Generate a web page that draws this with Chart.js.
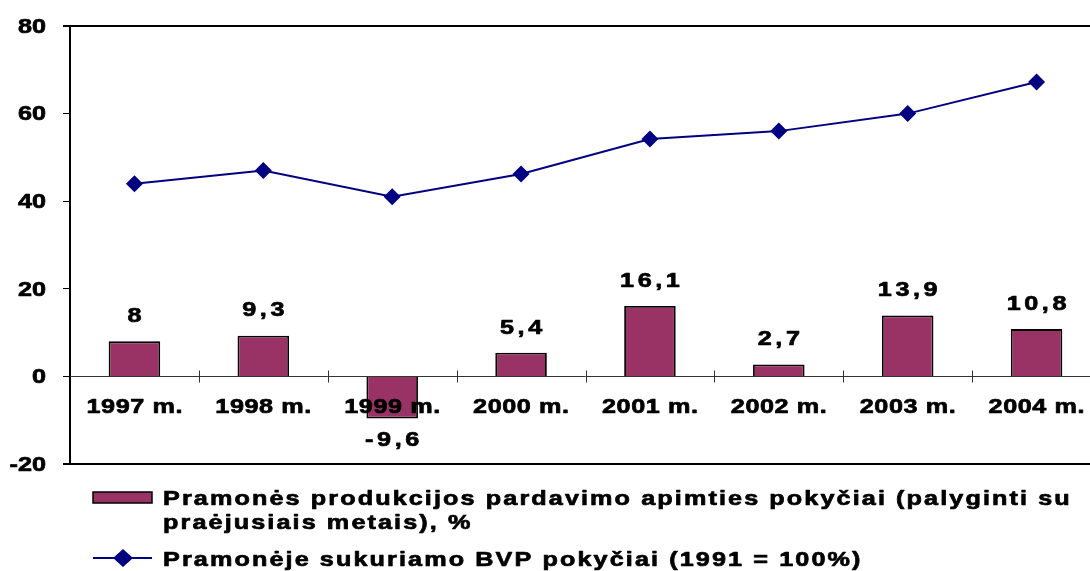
<!DOCTYPE html>
<html>
<head>
<meta charset="utf-8">
<script src="https://cdn.jsdelivr.net/npm/chart.js@4.4.1/dist/chart.umd.min.js"></script>
<style>
  html, body { margin: 0; padding: 0; background: #fff; overflow: hidden; }
  #wrap { width: 1090px; height: 571px; overflow: hidden; }
</style>
</head>
<body>
<div id="wrap"><canvas id="chart" width="1110" height="571"></canvas></div>
<script>
// data
const years = ['1997 m.', '1998 m.', '1999 m.', '2000 m.', '2001 m.', '2002 m.', '2003 m.', '2004 m.']
const salesChange = [8, 9.3, -9.6, 5.4, 16.1, 2.7, 13.9, 10.8]
const gdpIndex = [44, 47, 41, 46.2, 54.2, 56, 60, 67.2]
const yTicks = [-20, 0, 20, 40, 60, 80]
const barLabel = ['Pramonės produkcijos pardavimo apimties pokyčiai (palyginti su', 'praėjusiais metais), %']
const lineLabel = 'Pramonėje sukuriamo BVP pokyčiai (1991 = 100%)'

const BAR_COLOR = '#993366'
const LINE_COLOR = '#000080'
const FONT = 'bold 21px "Liberation Sans", Arial, sans-serif'

function fmt(v) {
    return String(v).replace('.', ',')
}

// the original text is a wide, heavy face: stretch it and thicken it a little
function wideText(ctx, text, x, y, align, spacing) {
    ctx.save()
    ctx.translate(x, y)
    ctx.scale(1.2, 1)
    ctx.font = FONT
    ctx.letterSpacing = spacing + 'px'
    ctx.textAlign = align
    ctx.strokeStyle = ctx.fillStyle
    ctx.lineWidth = 0.7
    ctx.lineJoin = 'round'
    const dx = align === 'center' ? spacing / 2 : 0
    ctx.fillText(text, dx, 0)
    ctx.strokeText(text, dx, 0)
    ctx.restore()
}

const decorations = {
    id: 'decorations',
    beforeDatasetsDraw(chart) {
        const ctx = chart.ctx
        const area = chart.chartArea
        const x = chart.scales.x
        const y = chart.scales.y
        const zero = Math.round(y.getPixelForValue(0)) + 0.5
        ctx.save()
        ctx.strokeStyle = '#333'
        ctx.lineWidth = 1
        ctx.beginPath()
        ctx.moveTo(area.left, zero)
        ctx.lineTo(area.right, zero)
        for (let i = 1; i < years.length; i++) {
            const bx = Math.round((x.getPixelForValue(i - 1) + x.getPixelForValue(i)) / 2) + 0.5
            ctx.moveTo(bx, zero - 6)
            ctx.lineTo(bx, zero + 6)
        }
        ctx.stroke()
        ctx.restore()
    },
    afterDraw(chart) {
        const ctx = chart.ctx
        const area = chart.chartArea
        const x = chart.scales.x
        const y = chart.scales.y
        const zero = y.getPixelForValue(0)
        ctx.save()
        // top and bottom frame lines
        ctx.strokeStyle = '#000'
        ctx.lineWidth = 2
        ctx.beginPath()
        ctx.moveTo(area.left - 7, y.getPixelForValue(80))
        ctx.lineTo(chart.width, y.getPixelForValue(80))
        ctx.moveTo(area.left - 7, y.getPixelForValue(-20))
        ctx.lineTo(chart.width, y.getPixelForValue(-20))
        ctx.stroke()

        ctx.fillStyle = '#000'
        ctx.textBaseline = 'middle'
        // y tick labels
        yTicks.forEach(v => {
            wideText(ctx, String(v), 46, y.getPixelForValue(v) + 1, 'right', 0)
        })
        // category labels on the zero line
        years.forEach((label, i) => {
            wideText(ctx, label, x.getPixelForValue(i), zero + 31, 'center', 0.5)
        })
        // bar value labels
        salesChange.forEach((v, i) => {
            const py = y.getPixelForValue(v)
            wideText(ctx, fmt(v), x.getPixelForValue(i), v >= 0 ? py - 25 : py + 22, 'center', 3)
        })

        // legend
        ctx.textBaseline = 'alphabetic'
        ctx.fillStyle = BAR_COLOR
        ctx.fillRect(93, 492, 59, 11)
        ctx.strokeStyle = '#000'
        ctx.lineWidth = 1.5
        ctx.strokeRect(93, 492, 59, 11)
        ctx.fillStyle = '#000'
        wideText(ctx, barLabel[0], 163, 505, 'left', 1.75)
        wideText(ctx, barLabel[1], 163, 529, 'left', 1.75)

        ctx.strokeStyle = LINE_COLOR
        ctx.lineWidth = 2
        ctx.beginPath()
        ctx.moveTo(93, 558)
        ctx.lineTo(152, 558)
        ctx.stroke()
        ctx.fillStyle = LINE_COLOR
        ctx.beginPath()
        ctx.moveTo(123, 549)
        ctx.lineTo(133, 558)
        ctx.lineTo(123, 567)
        ctx.lineTo(113, 558)
        ctx.closePath()
        ctx.fill()
        ctx.fillStyle = '#000'
        wideText(ctx, lineLabel, 163, 566, 'left', 1.75)
        ctx.restore()
    }
}

new Chart(document.getElementById('chart'), {
    type: 'bar',
    data: {
        labels: years,
        datasets: [
            {
                type: 'line',
                label: lineLabel,
                data: gdpIndex,
                borderColor: LINE_COLOR,
                backgroundColor: LINE_COLOR,
                borderWidth: 2,
                pointStyle: 'rectRot',
                pointRadius: 8.5,
                pointBorderWidth: 0,
                tension: 0,
                order: 0
            },
            {
                type: 'bar',
                label: barLabel.join(' '),
                data: salesChange,
                backgroundColor: BAR_COLOR,
                borderColor: '#000',
                borderWidth: 1.8,
                categoryPercentage: 0.4,
                barPercentage: 1,
                order: 1
            }
        ]
    },
    options: {
        responsive: false,
        animation: false,
        layout: {padding: {top: 26, bottom: 107, left: 0, right: 9}},
        plugins: {legend: {display: false}, tooltip: {enabled: false}},
        scales: {
            x: {display: false, offset: true},
            y: {
                min: -20,
                max: 80,
                afterFit: (scale) => { scale.width = 70 },
                afterBuildTicks: (scale) => { scale.ticks = yTicks.map(v => ({value: v})) },
                border: {display: true, color: '#000', width: 2},
                grid: {drawOnChartArea: false, color: '#000', tickLength: 7},
                ticks: {display: false}
            }
        }
    },
    plugins: [decorations]
})
</script>
</body>
</html>
